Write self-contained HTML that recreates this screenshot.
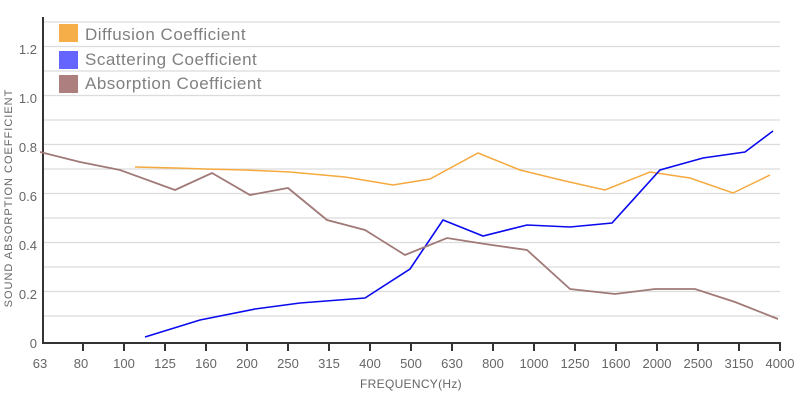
<!DOCTYPE html>
<html><head><style>
body{margin:0;background:#fff;}
svg{display:block;font-family:"Liberation Sans",sans-serif;}
</style></head><body>
<svg width="800" height="410" xmlns="http://www.w3.org/2000/svg">
<g stroke="#dcdcdc" stroke-width="1.2">
<line x1="43" x2="780" y1="22" y2="22"/><line x1="43" x2="780" y1="46.5" y2="46.5"/>
<line x1="43" x2="780" y1="71" y2="71"/><line x1="43" x2="780" y1="95.5" y2="95.5"/>
<line x1="43" x2="780" y1="120" y2="120"/><line x1="43" x2="780" y1="144.5" y2="144.5"/>
<line x1="43" x2="780" y1="169" y2="169"/><line x1="43" x2="780" y1="193.5" y2="193.5"/>
<line x1="43" x2="780" y1="218" y2="218"/><line x1="43" x2="780" y1="242.5" y2="242.5"/>
<line x1="43" x2="780" y1="267" y2="267"/><line x1="43" x2="780" y1="291.5" y2="291.5"/>
<line x1="43" x2="780" y1="316" y2="316"/>
</g>
<g stroke="#333" stroke-width="2">
<line x1="43" y1="17" x2="43" y2="343"/><line x1="42" y1="343" x2="781" y2="343"/>
</g>
<g stroke="#333" stroke-width="2">
<line x1="83" x2="83" y1="343" y2="351"/><line x1="124" x2="124" y1="343" y2="351"/><line x1="165" x2="165" y1="343" y2="351"/><line x1="206" x2="206" y1="343" y2="351"/><line x1="247" x2="247" y1="343" y2="351"/><line x1="288" x2="288" y1="343" y2="351"/><line x1="329" x2="329" y1="343" y2="351"/><line x1="370" x2="370" y1="343" y2="351"/><line x1="411" x2="411" y1="343" y2="351"/><line x1="452" x2="452" y1="343" y2="351"/><line x1="493" x2="493" y1="343" y2="351"/><line x1="534" x2="534" y1="343" y2="351"/><line x1="575" x2="575" y1="343" y2="351"/><line x1="616" x2="616" y1="343" y2="351"/><line x1="657" x2="657" y1="343" y2="351"/><line x1="698" x2="698" y1="343" y2="351"/><line x1="739" x2="739" y1="343" y2="351"/><line x1="780" x2="780" y1="343" y2="351"/>
</g>
<g fill="#666" font-size="13" text-anchor="middle">
<text x="40" y="368">63</text><text x="81" y="368">80</text><text x="124" y="368">100</text><text x="165" y="368">125</text><text x="206" y="368">160</text><text x="247" y="368">200</text><text x="288" y="368">250</text><text x="329" y="368">315</text><text x="370" y="368">400</text><text x="411" y="368">500</text><text x="452" y="368">630</text><text x="493" y="368">800</text><text x="534" y="368">1000</text><text x="575" y="368">1250</text><text x="616" y="368">1600</text><text x="657" y="368">2000</text><text x="698" y="368">2500</text><text x="739" y="368">3150</text><text x="780" y="368">4000</text>
</g>
<g fill="#666" font-size="13" text-anchor="end">
<text x="37" y="348">0</text><text x="37" y="299">0.2</text><text x="37" y="250">0.4</text><text x="37" y="201">0.6</text><text x="37" y="152">0.8</text><text x="37" y="103">1.0</text><text x="37" y="54">1.2</text>
</g>
<text x="411" y="388" fill="#666" font-size="12" text-anchor="middle" letter-spacing="0.3">FREQUENCY(Hz)</text>
<text transform="translate(12,198) rotate(-90)" fill="#666" font-size="11" text-anchor="middle" letter-spacing="1">SOUND ABSORPTION COEFFICIENT</text>
<polyline fill="none" stroke="#f5a93e" stroke-width="1.5" points="135,167 175,168 205,169 245,170 290,172 345,177 393,185 430,179 478,153 520,170 565,181 605,190 650,172 690,178 733,193 770,175"/>
<polyline fill="none" stroke="#0a0aee" stroke-width="1.6" points="145,337 200,320 255,309 300,303 365,298 410,269 443,220 483,236 527,225 570,227 612,223 660,170 703,158 745,152 773,131"/>
<polyline fill="none" stroke="#a07a78" stroke-width="1.8" points="40,152 80,162 120,170 175,190 212,173 250,195 288,188 327,220 365,230 405,255 447,238 485,244 527,250 570,289 615,294 655,289 695,289 735,302 778,319"/>
<rect x="59" y="24" width="19" height="18" fill="#f5ae48"/>
<rect x="59" y="51" width="19" height="18" fill="#6464ff"/>
<rect x="59" y="75" width="19" height="18" fill="#ad7f7e"/>
<g fill="#808080" font-size="17" letter-spacing="0.5">
<text x="85" y="40">Diffusion Coefficient</text>
<text x="85" y="65">Scattering Coefficient</text>
<text x="85" y="89">Absorption Coefficient</text>
</g>
</svg>
</body></html>
